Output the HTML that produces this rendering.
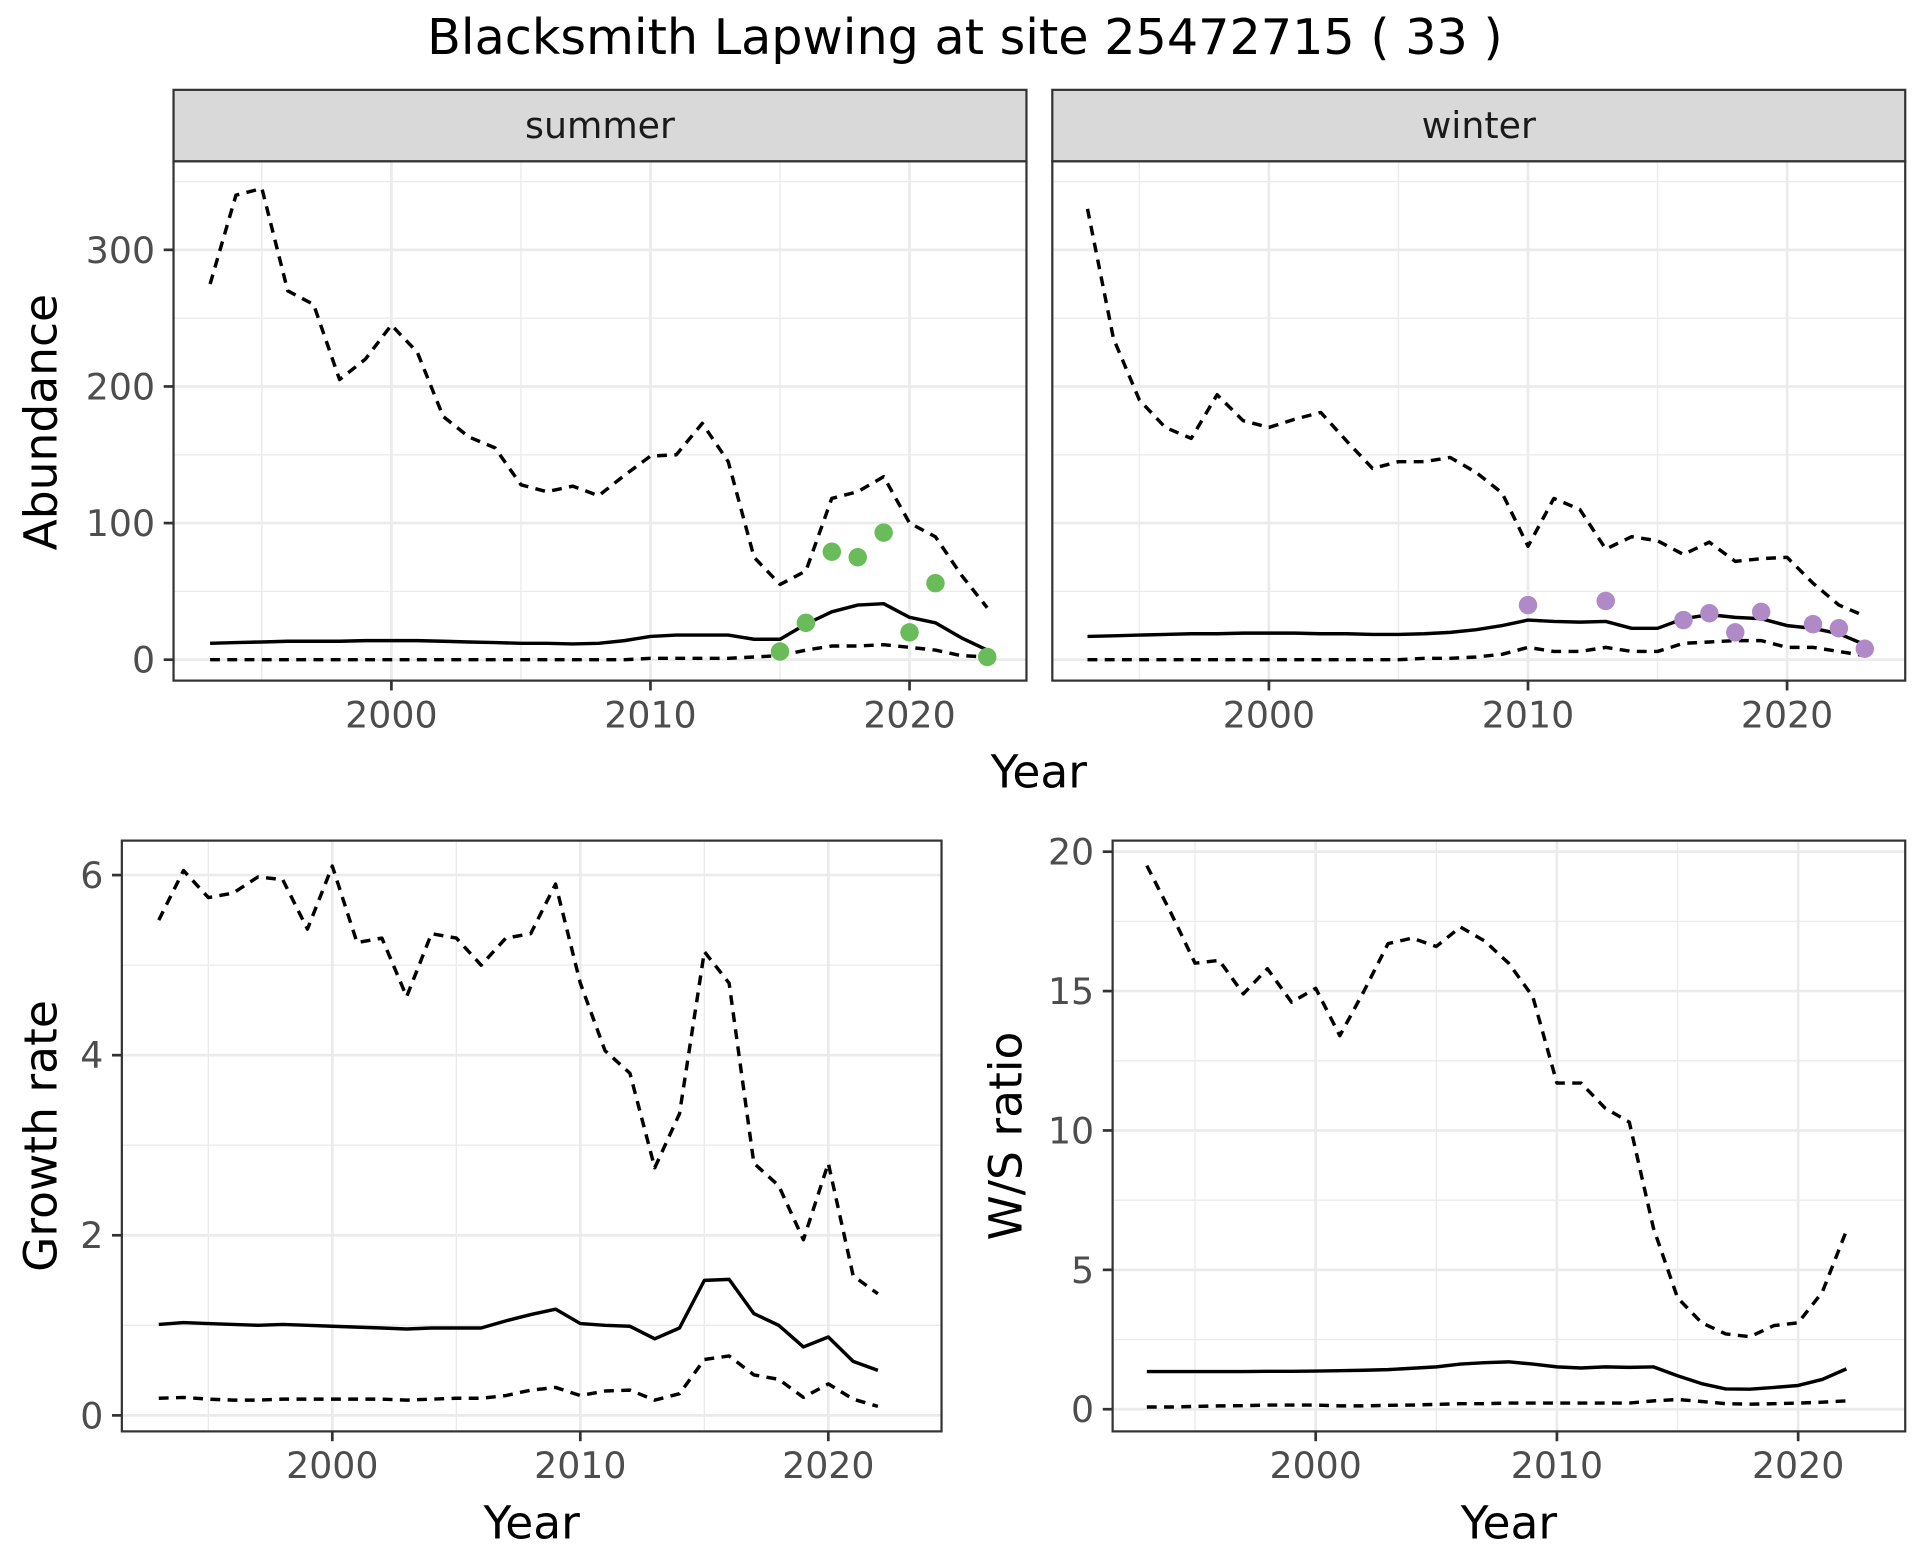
<!DOCTYPE html>
<html><head><meta charset="utf-8"><style>
html,body{margin:0;padding:0;background:#fff;}
svg{display:block;font-family:"DejaVu Sans","Liberation Sans",sans-serif;}
</style></head><body>
<svg id="chart" width="1920" height="1560" viewBox="0 0 1560 1267.5" preserveAspectRatio="none" xmlns="http://www.w3.org/2000/svg">
<text x="784" y="44" font-size="40" text-anchor="middle" fill="#000">Blacksmith Lapwing at site 25472715 ( 33 )</text>
</svg>
<script>
const yearsA = [1993,1994,1995,1996,1997,1998,1999,2000,2001,2002,2003,2004,2005,2006,2007,2008,2009,2010,2011,2012,2013,2014,2015,2016,2017,2018,2019,2020,2021,2022,2023];
const summerUpper = [275,340,345,270,260,205,220,245,225,178,163,155,128,123,127,120,135,149,150,173,145,75,55,65,118,123,134,100,90,62,38];
const summerMean = [12,12.5,13,13.5,13.5,13.5,14,14,14,13.5,13,12.5,12,12,11.5,12,14,17,18,18,18,15,15,26,35,40,41,31,27,16,7];
const summerLower = [0,0,0,0,0,0,0,0,0,0,0,0,0,0,0,0,0,1,1,1,1,2,3,7,10,10,11,9,7,3,2];
const summerPtYears = [2015,2016,2017,2018,2019,2020,2021,2023];
const summerPtVals = [6,27,79,75,93,20,56,2];
const winterUpper = [330,235,190,170,162,194,175,170,176,181,160,140,145,145,148,137,122,83,118,110,81,90,87,77,86,72,74,75,56,40,32];
const winterMean = [17,17.5,18,18.5,19,19,19.5,19.5,19.5,19,19,18.5,18.5,19,20,22,25,29,28,27.5,28,23,23,30,33,31,30,25,23,19,11];
const winterLower = [0,0,0,0,0,0,0,0,0,0,0,0,0,1,1,2,4,9,6,6,9,6,6,12,13,14,14,9,9,6,3];
const winterPtYears = [2010,2013,2016,2017,2018,2019,2021,2022,2023];
const winterPtVals = [40,43,29,34,20,35,26,23,8];
const yearsB = [1993,1994,1995,1996,1997,1998,1999,2000,2001,2002,2003,2004,2005,2006,2007,2008,2009,2010,2011,2012,2013,2014,2015,2016,2017,2018,2019,2020,2021,2022];
const growthUpper = [5.5,6.05,5.75,5.8,5.98,5.95,5.4,6.1,5.25,5.3,4.65,5.35,5.3,5.0,5.3,5.35,5.9,4.8,4.05,3.8,2.75,3.35,5.15,4.8,2.8,2.55,1.95,2.8,1.55,1.35];
const growthMean = [1.01,1.03,1.02,1.01,1.0,1.01,1.0,0.99,0.98,0.97,0.96,0.97,0.97,0.97,1.05,1.12,1.18,1.02,1.0,0.99,0.85,0.97,1.5,1.51,1.13,1.0,0.76,0.87,0.6,0.5];
const growthLower = [0.19,0.2,0.18,0.17,0.17,0.18,0.18,0.18,0.18,0.18,0.17,0.18,0.19,0.19,0.22,0.28,0.31,0.22,0.27,0.28,0.17,0.24,0.62,0.66,0.45,0.4,0.2,0.35,0.18,0.1];
const wsUpper = [19.5,17.8,16,16.1,14.9,15.8,14.6,15.1,13.4,15,16.7,16.9,16.6,17.3,16.8,16,14.8,11.7,11.7,10.8,10.3,6.5,4,3.1,2.7,2.6,3,3.1,4.2,6.4];
const wsMean = [1.35,1.35,1.35,1.35,1.35,1.36,1.36,1.37,1.38,1.40,1.42,1.47,1.52,1.62,1.67,1.70,1.62,1.52,1.48,1.52,1.50,1.52,1.20,0.92,0.73,0.72,0.78,0.85,1.07,1.45];
const wsLower = [0.08,0.08,0.1,0.12,0.13,0.15,0.15,0.15,0.12,0.12,0.14,0.15,0.17,0.2,0.2,0.22,0.22,0.22,0.22,0.22,0.22,0.3,0.35,0.28,0.2,0.18,0.2,0.22,0.25,0.3];
const xTicks = [2000,2010,2020];
const xMinor = [1995,2005,2015];
const abTicks = [0,100,200,300];
const abMinor = [50,150,250,350];
const grTicks = [0,2,4,6];
const grMinor = [1,3,5];
const wsTicks = [0,5,10,15,20];
const wsMinor = [2.5,7.5,12.5,17.5];

const svg = document.getElementById('chart');
const NS = 'http://www.w3.org/2000/svg';
function mk(tag, attrs, parent){
  const e = document.createElementNS(NS, tag);
  for (const k in attrs) e.setAttribute(k, attrs[k]);
  (parent||svg).appendChild(e);
  return e;
}
function lin(d0,d1,r0,r1){ return v => r0 + (v-d0)/(d1-d0)*(r1-r0); }

function panel(cfg){
  const g = mk('g', {});
  
  
  const {x0,x1,y0,y1} = cfg;
  const sx = lin(cfg.xa[0], cfg.xa[1], cfg.xp[0], cfg.xp[1]);
  const sy = lin(cfg.ya[0], cfg.ya[1], cfg.yp[0], cfg.yp[1]);
  mk('rect', {x:x0,y:y0,width:x1-x0,height:y1-y0,fill:'#fff'}, g);
  cfg.yMinor.forEach(v=>{ const y=sy(v); if(y>y0&&y<y1) mk('line',{x1:x0,x2:x1,y1:y,y2:y,stroke:'#ebebeb','stroke-width':1.1},g); });
  xMinor.forEach(v=>{ const x=sx(v); mk('line',{x1:x,x2:x,y1:y0,y2:y1,stroke:'#ebebeb','stroke-width':1.1},g); });
  cfg.yTicks.forEach(v=>{ const y=sy(v); mk('line',{x1:x0,x2:x1,y1:y,y2:y,stroke:'#ebebeb','stroke-width':2.2},g); });
  xTicks.forEach(v=>{ const x=sx(v); mk('line',{x1:x,x2:x,y1:y0,y2:y1,stroke:'#ebebeb','stroke-width':2.2},g); });
  cfg.series.forEach(s=>{
    const pts = s.ys.map((v,i)=>sx(s.xs[i]).toFixed(1)+','+sy(v).toFixed(1)).join(' ');
    const pl = mk('polyline',{points:pts,fill:'none',stroke:'#000','stroke-width':2.8,'stroke-dasharray':s.dash?'8,6':'none','stroke-linejoin':'round'},g);
    
    
  });
  if (cfg.pts) cfg.pts.vals.forEach((v,i)=>{
    const c = mk('circle',{cx:sx(cfg.pts.years[i]),cy:sy(v),r:7.5,fill:cfg.pts.color},g);
    
    
  });
  mk('rect',{x:x0,y:y0,width:x1-x0,height:y1-y0,fill:'none',stroke:'#333','stroke-width':1.8},g);
  if (cfg.yLabels) cfg.yTicks.forEach(v=>{
    const y=sy(v);
    mk('line',{x1:x0-8,x2:x0,y1:y,y2:y,stroke:'#333','stroke-width':2.2},g);
    const t = mk('text',{x:x0-15,y:y+10.5,'font-size':29.5,'text-anchor':'end',fill:'#4d4d4d'},g);
    t.textContent = v;
    
    
  });
  xTicks.forEach(v=>{
    const x=sx(v);
    mk('line',{x1:x,x2:x,y1:y1,y2:y1+8,stroke:'#333','stroke-width':2.2},g);
    const t = mk('text',{x:x,y:y1+38,'font-size':29.5,'text-anchor':'middle',fill:'#4d4d4d'},g);
    t.textContent = v;
    
    
  });
  if (cfg.strip){
    mk('rect',{x:x0,y:y0-58,width:x1-x0,height:58,fill:'#d9d9d9',stroke:'#333','stroke-width':1.8},g);
    const t = mk('text',{x:(x0+x1)/2,y:y0-19,'font-size':29.5,'text-anchor':'middle',fill:'#1a1a1a'},g);
    t.textContent = cfg.strip;
    
    
  }
}
function axisTitle(txt,x,y,rot,name){
  const t = mk('text',{x:x,y:y,'font-size':37,'text-anchor':'middle',fill:'#000',transform:rot?`rotate(-90 ${x} ${y})`:''});
  t.textContent = txt;
  
  
}

panel({name:'summer-panel',x0:141,x1:834,y0:131,y1:553,xa:[2000,2020],xp:[318,739],ya:[0,300],yp:[536,203],
  yTicks:abTicks,yMinor:abMinor,yLabels:true,strip:'summer',
  series:[{name:'summer-upper-line',xs:yearsA,ys:summerUpper,dash:true},{name:'summer-mean-line',xs:yearsA,ys:summerMean},{name:'summer-lower-line',xs:yearsA,ys:summerLower,dash:true}],
  pts:{years:summerPtYears,vals:summerPtVals,color:'#6abc5a'}});
panel({name:'winter-panel',x0:855,x1:1548,y0:131,y1:553,xa:[2000,2020],xp:[1031,1452],ya:[0,300],yp:[536,203],
  yTicks:abTicks,yMinor:abMinor,yLabels:false,strip:'winter',
  series:[{name:'winter-upper-line',xs:yearsA,ys:winterUpper,dash:true},{name:'winter-mean-line',xs:yearsA,ys:winterMean},{name:'winter-lower-line',xs:yearsA,ys:winterLower,dash:true}],
  pts:{years:winterPtYears,vals:winterPtVals,color:'#b08ac6'}});
panel({name:'growth-rate-panel',x0:99,x1:765,y0:683,y1:1163,xa:[2000,2020],xp:[270,673],ya:[0,6],yp:[1150,711],
  yTicks:grTicks,yMinor:grMinor,yLabels:true,
  series:[{name:'growth-upper-line',xs:yearsB,ys:growthUpper,dash:true},{name:'growth-mean-line',xs:yearsB,ys:growthMean},{name:'growth-lower-line',xs:yearsB,ys:growthLower,dash:true}]});
panel({name:'ws-ratio-panel',x0:904,x1:1548,y0:683,y1:1163,xa:[2000,2020],xp:[1069,1461],ya:[0,20],yp:[1145,692],
  yTicks:wsTicks,yMinor:wsMinor,yLabels:true,
  series:[{name:'ws-upper-line',xs:yearsB,ys:wsUpper,dash:true},{name:'ws-mean-line',xs:yearsB,ys:wsMean},{name:'ws-lower-line',xs:yearsB,ys:wsLower,dash:true}]});

axisTitle('Abundance',46,343,true,'abundance-y-axis-title');
axisTitle('Year',844,640,false,'top-x-axis-title');
axisTitle('Growth rate',46,923,true,'growth-y-axis-title');
axisTitle('Year',432,1250,false,'growth-x-axis-title');
axisTitle('W/S ratio',830,923,true,'ws-y-axis-title');
axisTitle('Year',1226,1250,false,'ws-x-axis-title');
</script>
</body></html>
